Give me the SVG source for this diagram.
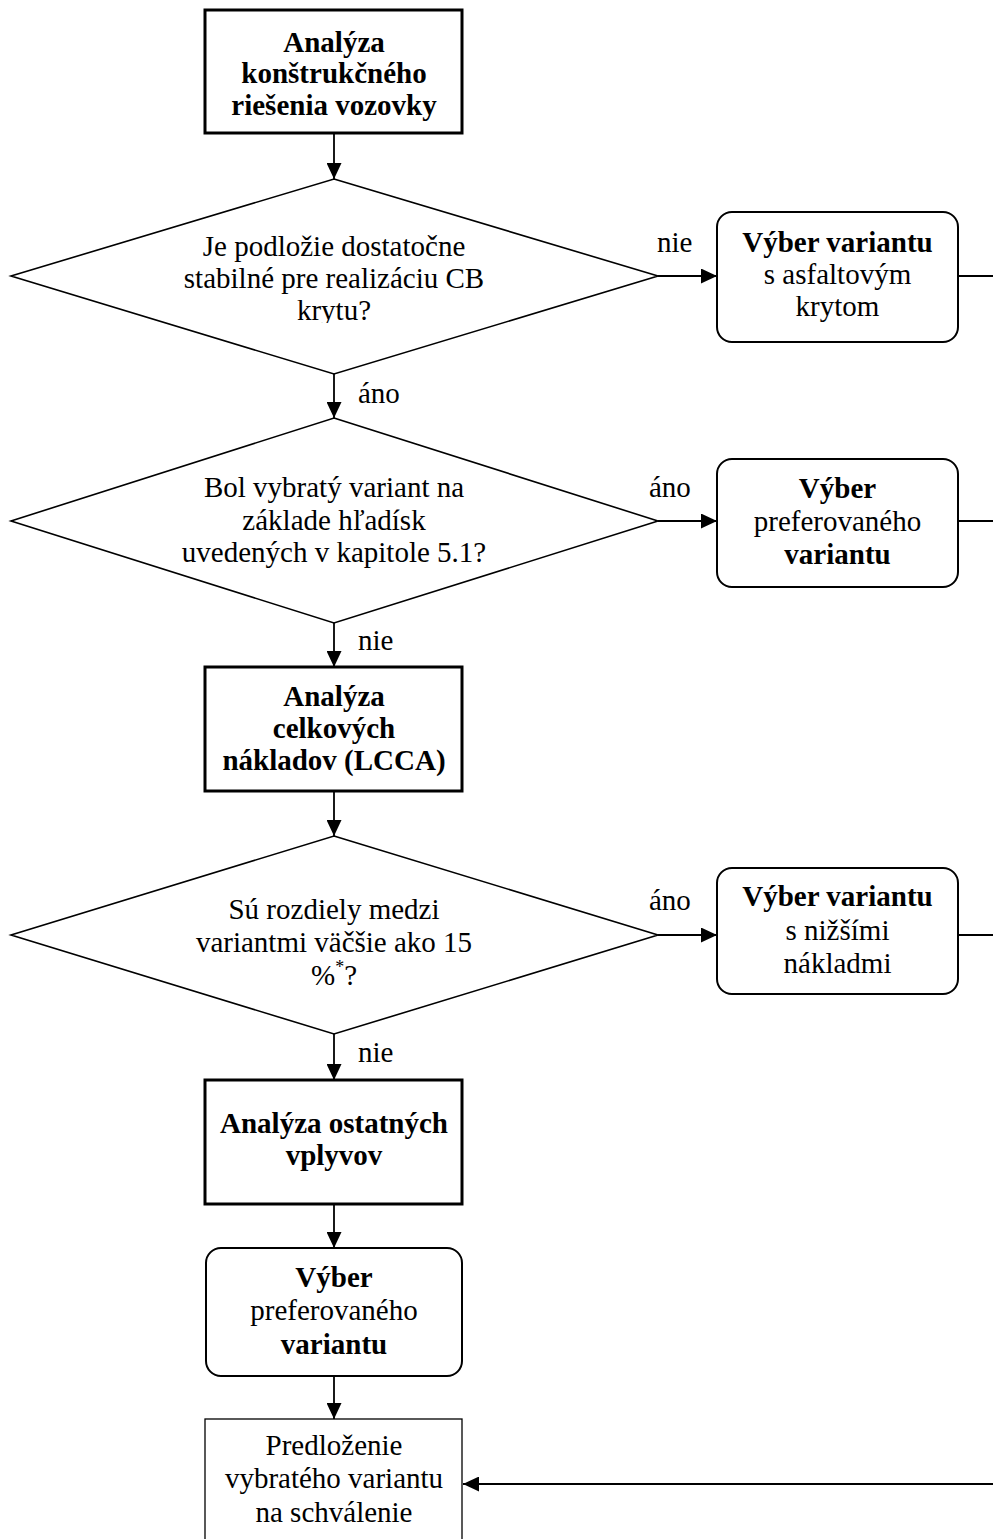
<svg xmlns="http://www.w3.org/2000/svg" width="993" height="1539" viewBox="0 0 993 1539">
<style>
text{font-family:"Liberation Serif","Times New Roman",serif;font-size:29px;fill:#000}
.c{text-anchor:middle}
.b{font-weight:bold}
.thick{fill:#fff;stroke:#000;stroke-width:3}
.thin{fill:#fff;stroke:#000;stroke-width:1.3}
.round{fill:#fff;stroke:#000;stroke-width:2}
.dia{fill:#fff;stroke:#000;stroke-width:1.6}
.ln{fill:none;stroke:#000;stroke-width:1.8}
</style>
<defs>
<marker id="arr" markerUnits="userSpaceOnUse" markerWidth="17" markerHeight="15" refX="16" refY="7.5" orient="auto">
<path d="M0,0 L16,7.5 L0,15 Z" fill="#000"/>
</marker>
<clipPath id="clip1"><rect x="150" y="230" width="370" height="93"/></clipPath>
</defs>
<rect width="993" height="1539" fill="#fff"/>

<g id="connectors">
<line class="ln" x1="334" y1="133" x2="334" y2="179" marker-end="url(#arr)"/>
<line class="ln" x1="334" y1="374" x2="334" y2="418" marker-end="url(#arr)"/>
<line class="ln" x1="334" y1="623" x2="334" y2="667" marker-end="url(#arr)"/>
<line class="ln" x1="334" y1="791" x2="334" y2="836" marker-end="url(#arr)"/>
<line class="ln" x1="334" y1="1034" x2="334" y2="1080" marker-end="url(#arr)"/>
<line class="ln" x1="334" y1="1204" x2="334" y2="1248" marker-end="url(#arr)"/>
<line class="ln" x1="334" y1="1376" x2="334" y2="1419" marker-end="url(#arr)"/>
<line class="ln" x1="658" y1="276" x2="717" y2="276" marker-end="url(#arr)"/>
<line class="ln" x1="658" y1="521" x2="717" y2="521" marker-end="url(#arr)"/>
<line class="ln" x1="658" y1="935" x2="717" y2="935" marker-end="url(#arr)"/>
<line class="ln" x1="958" y1="276" x2="993" y2="276"/>
<line class="ln" x1="958" y1="521" x2="993" y2="521"/>
<line class="ln" x1="958" y1="935" x2="993" y2="935"/>
<line class="ln" x1="993" y1="1484" x2="463" y2="1484" marker-end="url(#arr)"/>
<text x="657" y="252">nie</text>
<text x="358" y="403">áno</text>
<text x="649" y="497">áno</text>
<text x="358" y="650">nie</text>
<text x="649" y="910">áno</text>
<text x="358" y="1062">nie</text>
</g>

<g id="n1">
<rect class="thick" x="205" y="10" width="257" height="123"/>
<text class="c b" x="334" y="52">Analýza</text>
<text class="c b" x="334" y="83">konštrukčného</text>
<text class="c b" x="334" y="115">riešenia vozovky</text>
</g>

<g id="d1">
<polygon class="dia" points="334,179 658,276 334,374 11,276"/>
<g clip-path="url(#clip1)">
<text class="c" x="334" y="256">Je podložie dostatočne</text>
<text class="c" x="334" y="288">stabilné pre realizáciu CB</text>
<text class="c" x="334" y="320">krytu?</text>
</g>
</g>

<g id="r1">
<rect class="round" x="717" y="212" width="241" height="130" rx="15"/>
<text class="c b" x="837.5" y="252">Výber variantu</text>
<text class="c" x="837.5" y="284">s asfaltovým</text>
<text class="c" x="837.5" y="316">krytom</text>
</g>

<g id="d2">
<polygon class="dia" points="334,418 658,521 334,623 11,521"/>
<text class="c" x="334" y="497">Bol vybratý variant na</text>
<text class="c" x="334" y="530">základe hľadísk</text>
<text class="c" x="334" y="562">uvedených v kapitole 5.1?</text>
</g>

<g id="r2">
<rect class="round" x="717" y="459" width="241" height="128" rx="15"/>
<text class="c b" x="837.5" y="498">Výber</text>
<text class="c" x="837.5" y="531">preferovaného</text>
<text class="c b" x="837.5" y="564">variantu</text>
</g>

<g id="n2">
<rect class="thick" x="205" y="667" width="257" height="124"/>
<text class="c b" x="334" y="706">Analýza</text>
<text class="c b" x="334" y="738">celkových</text>
<text class="c b" x="334" y="770">nákladov (LCCA)</text>
</g>

<g id="d3">
<polygon class="dia" points="334,836 658,935 334,1034 11,935"/>
<text class="c" x="334" y="919">Sú rozdiely medzi</text>
<text class="c" x="334" y="952">variantmi väčšie ako 15</text>
<text class="c" x="334" y="985">%<tspan dy="-12" font-size="18">*</tspan><tspan dy="12">?</tspan></text>
</g>

<g id="r3">
<rect class="round" x="717" y="868" width="241" height="126" rx="15"/>
<text class="c b" x="837.5" y="906">Výber variantu</text>
<text class="c" x="837.5" y="940">s nižšími</text>
<text class="c" x="837.5" y="973">nákladmi</text>
</g>

<g id="n3">
<rect class="thick" x="205" y="1080" width="257" height="124"/>
<text class="c b" x="334" y="1133">Analýza ostatných</text>
<text class="c b" x="334" y="1165">vplyvov</text>
</g>

<g id="n4">
<rect class="round" x="206" y="1248" width="256" height="128" rx="15"/>
<text class="c b" x="334" y="1287">Výber</text>
<text class="c" x="334" y="1320">preferovaného</text>
<text class="c b" x="334" y="1354">variantu</text>
</g>

<g id="n5">
<rect class="thin" x="205" y="1419" width="257" height="130"/>
<text class="c" x="334" y="1455">Predloženie</text>
<text class="c" x="334" y="1488">vybratého variantu</text>
<text class="c" x="334" y="1522">na schválenie</text>
</g>
</svg>
